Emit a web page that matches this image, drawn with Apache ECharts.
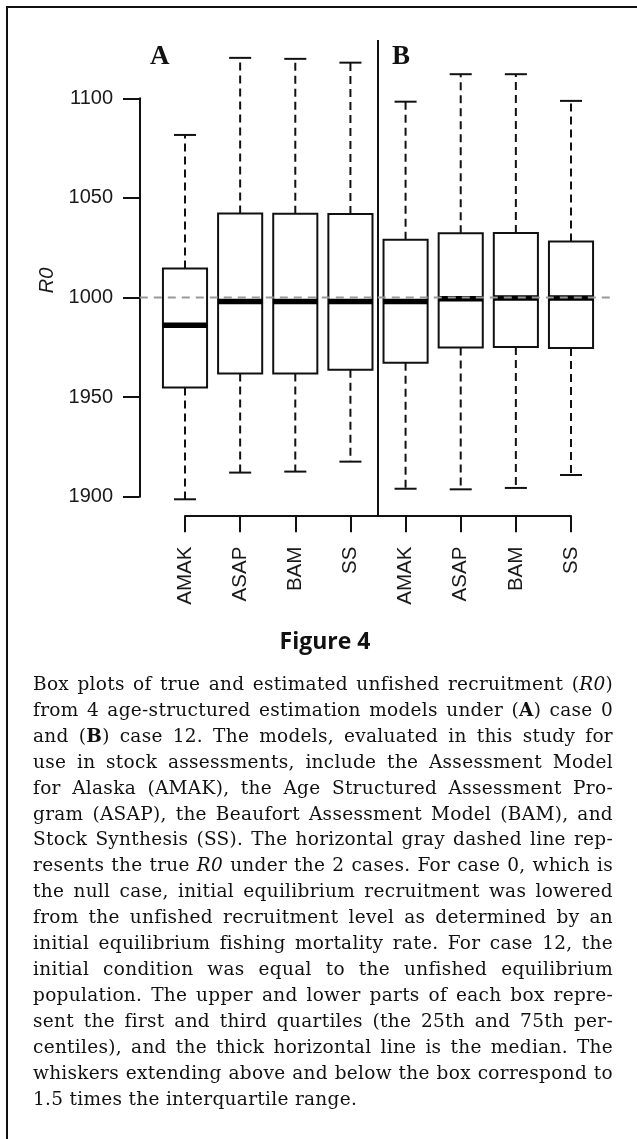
<!DOCTYPE html>
<html lang="en">
<head>
<meta charset="UTF-8">
<title>Figure 4 - R0 box plots</title>
<script src="https://cdn.jsdelivr.net/npm/echarts@6/dist/echarts.min.js"></script>
<style>
  html, body { margin: 0; padding: 0; background: #fff; }
  #main { position: absolute; left: 0; top: 0; width: 637px; height: 1139px; }
  #frame { position: absolute; left: 6px; top: 6px; width: 640px; height: 1140px;
           border-left: 2.5px solid #111; border-top: 2.5px solid #111; pointer-events: none; }
  #caption { position: absolute; left: 33px; top: 671px; width: 580px;
             font-family: "DejaVu Serif", serif; font-size: 18.5px; letter-spacing: 0.3px;
             line-height: 25.9px; color: #111; }
  #caption div { text-align: justify; text-align-last: justify; white-space: nowrap; }
  #caption div.last { text-align-last: left; }
</style>
</head>
<body>
<div id="main"></div>
<div id="frame"></div>
<div id="caption">
  <div>Box plots of true and estimated unfished recruitment (<i>R0</i>)</div>
  <div>from 4 age-structured estimation models under (<b>A</b>) case 0</div>
  <div>and (<b>B</b>) case 12. The models, evaluated in this study for</div>
  <div>use in stock assessments, include the Assessment Model</div>
  <div>for Alaska (AMAK), the Age Structured Assessment Pro-</div>
  <div>gram (ASAP), the Beaufort Assessment Model (BAM), and</div>
  <div>Stock Synthesis (SS). The horizontal gray dashed line rep-</div>
  <div>resents the true <i>R0</i> under the 2 cases. For case 0, which is</div>
  <div>the null case, initial equilibrium recruitment was lowered</div>
  <div>from the unfished recruitment level as determined by an</div>
  <div>initial equilibrium fishing mortality rate. For case 12, the</div>
  <div>initial condition was equal to the unfished equilibrium</div>
  <div>population. The upper and lower parts of each box repre-</div>
  <div>sent the first and third quartiles (the 25th and 75th per-</div>
  <div>centiles), and the thick horizontal line is the median. The</div>
  <div>whiskers extending above and below the box correspond to</div>
  <div class="last">1.5 times the interquartile range.</div>
</div>
<script>
// models, panel A (case 0) then panel B (case 12)
const categories = ['AMAK', 'ASAP', 'BAM', 'SS', 'AMAK', 'ASAP', 'BAM', 'SS']
const whiskerLow = [898.7, 912.1, 912.6, 917.6, 904.0, 903.7, 904.4, 910.9]
const quartile1 = [954.8, 961.8, 961.8, 963.7, 967.3, 974.9, 975.2, 974.6]
const medians = [986.1, 998.0, 998.0, 998.0, 998.0, 999.4, 999.7, 999.7]
const quartile3 = [1014.6, 1042.2, 1042.0, 1041.9, 1029.0, 1032.2, 1032.4, 1028.1]
const whiskerHigh = [1081.6, 1120.3, 1119.8, 1117.9, 1098.3, 1112.1, 1112.1, 1098.7]

// true R0 reference line and the panel divider
const trueR0 = 1000
const refLineX = [-0.82, 7.76]
const dividerX = 3.5
const dividerSpan = [890.5, 1129.3]

// y ticks as printed in the figure
const yTicks = [900, 950, 1000, 1050, 1100]
const yTickLabels = ['1900', '1950', '1000', '1050', '1100']
const panelLabels = ['A', 'B']

const boxData = categories.map(function (c, i) {
    return [i, whiskerLow[i], quartile1[i], medians[i], quartile3[i], whiskerHigh[i]]
})

function renderBox(params, api) {
    const i = api.value(0)
    const half = api.size([1, 0])[0] * 0.4
    const capHalf = half * 0.5
    const low = api.coord([i, api.value(1)])
    const q1 = api.coord([i, api.value(2)])
    const med = api.coord([i, api.value(3)])
    const q3 = api.coord([i, api.value(4)])
    const high = api.coord([i, api.value(5)])
    const x = med[0]
    const dashed = { stroke: '#111', lineWidth: 2, lineDash: [8, 5] }
    const solid = { stroke: '#111', lineWidth: 2 }
    return {
        type: 'group',
        children: [
            { type: 'line', shape: { x1: x, y1: q3[1], x2: x, y2: high[1] }, style: dashed },
            { type: 'line', shape: { x1: x, y1: q1[1], x2: x, y2: low[1] }, style: dashed },
            { type: 'line', shape: { x1: x - capHalf, y1: high[1], x2: x + capHalf, y2: high[1] }, style: solid },
            { type: 'line', shape: { x1: x - capHalf, y1: low[1], x2: x + capHalf, y2: low[1] }, style: solid },
            { type: 'rect', shape: { x: x - half, y: q3[1], width: half * 2, height: q1[1] - q3[1] },
              style: { fill: '#fff', stroke: '#111', lineWidth: 2 } },
            { type: 'line', shape: { x1: x - half, y1: med[1], x2: x + half, y2: med[1] },
              style: { stroke: '#000', lineWidth: 5.5 } }
        ]
    }
}

// straight segment drawn on the hidden value x axis (not clipped to the grid)
function renderSegment(params, api) {
    const a = api.coord([api.value(0), api.value(1)])
    const b = api.coord([api.value(2), api.value(3)])
    return {
        type: 'line',
        shape: { x1: a[0], y1: a[1], x2: b[0], y2: b[1] },
        style: {
            stroke: api.value(4) ? '#9a9a9a' : '#111',
            lineWidth: 2,
            lineDash: api.value(4) ? [8, 6] : null
        }
    }
}

const myChart = echarts.init(document.getElementById('main'))
const option = {
    animation: false,
    backgroundColor: '#fff',
    textStyle: { fontFamily: 'Liberation Sans' },
    grid: { left: 185, right: 66, top: 98.3, bottom: 642.3 },
    xAxis: [{
        type: 'category',
        data: categories,
        boundaryGap: false,
        offset: 19,
        axisLine: { onZero: false, lineStyle: { color: '#111', width: 2 } },
        axisTick: { length: 16.5, lineStyle: { color: '#111', width: 2 } },
        axisLabel: { rotate: 90, margin: 31, fontSize: 20.5, color: '#1a1a1a', interval: 0 },
        splitLine: { show: false }
    }, {
        type: 'value',
        min: 0,
        max: 7,
        show: false
    }],
    yAxis: {
        type: 'value',
        min: 900,
        max: 1100,
        interval: 50,
        offset: 45.5,
        axisLine: { show: true, onZero: false, lineStyle: { color: '#111', width: 2 } },
        axisTick: { show: true, length: 16.5, lineStyle: { color: '#111', width: 2 } },
        axisLabel: {
            margin: 26.5,
            fontSize: 20,
            color: '#1a1a1a',
            formatter: function (v) { return yTickLabels[yTicks.indexOf(v)] }
        },
        splitLine: { show: false }
    },
    graphic: [
        { type: 'text', left: 150, top: 44, style: { text: panelLabels[0], font: 'bold 27px "Liberation Serif"', fill: '#111' } },
        { type: 'text', left: 392, top: 44, style: { text: panelLabels[1], font: 'bold 27px "Liberation Serif"', fill: '#111' } },
        { type: 'text', x: 47.5, y: 280.5, rotation: Math.PI / 2,
          style: { text: 'R0', font: 'italic 20px "Liberation Sans"', fill: '#1a1a1a', align: 'center', verticalAlign: 'middle' } },
        { type: 'text', x: 325, y: 642,
          style: { text: 'Figure 4', font: 'bold 23px "Open Sans"', fill: '#111', align: 'center', verticalAlign: 'middle' } }
    ],
    series: [{
        type: 'custom',
        name: 'R0',
        renderItem: renderBox,
        data: boxData,
        encode: { x: 0, y: [1, 2, 3, 4, 5] },
        z: 2
    }, {
        type: 'custom',
        name: 'divider',
        xAxisIndex: 1,
        renderItem: renderSegment,
        data: [[dividerX, dividerSpan[0], dividerX, dividerSpan[1], 0]],
        silent: true,
        z: 3
    }, {
        type: 'custom',
        name: 'true R0',
        xAxisIndex: 1,
        renderItem: renderSegment,
        data: [[refLineX[0], trueR0, refLineX[1], trueR0, 1]],
        silent: true,
        z: 5
    }]
}
myChart.setOption(option)
</script>
</body>
</html>
